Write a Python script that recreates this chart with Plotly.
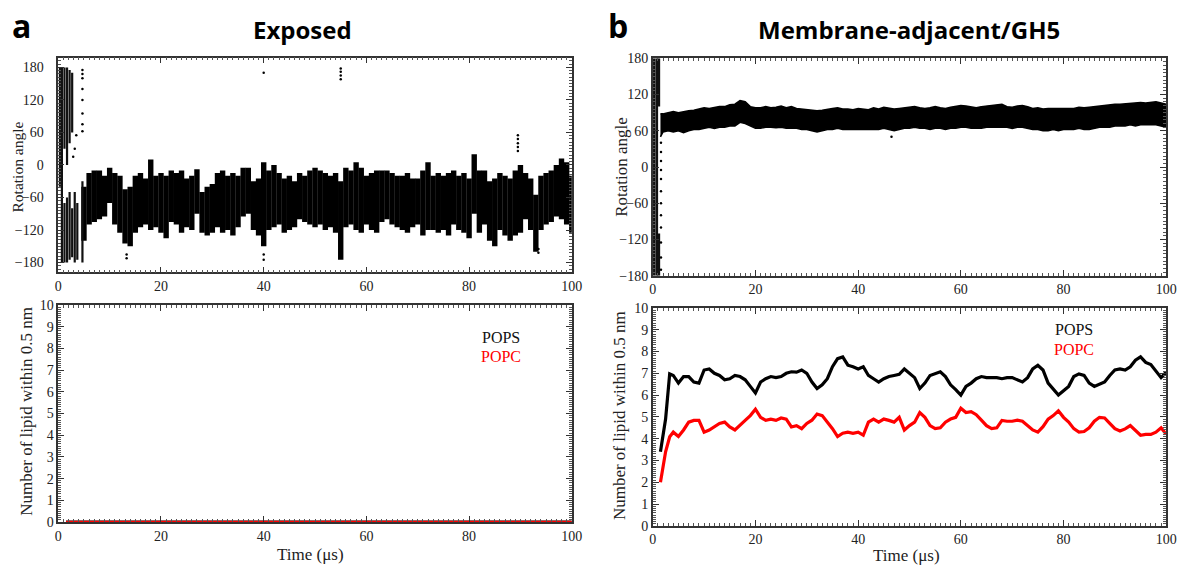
import plotly.graph_objects as go

# ---------------- DATA ----------------
# Panel a (Exposed) rotation angle: per-µs extent of the point cloud
a_t = list(range(5, 101))
a_hi = [-40, -15, -10, -10, -20, -5, -15, -20, -45, -40, -20, -15, -25, 10, -20, -15,
        -20, -10, -15, -10, -25, -20, -8, -50, -40, -35, -15, -10, -20, -15, -20, -5,
        -5, -30, -25, 5, -10, 0, -15, -25, -20, -30, -15, -20, -10, -5, -10, -15,
        -20, -15, -30, -5, -10, 5, -5, -20, -15, -10, -10, -10, -15, -20, -20, -15,
        -25, -25, -10, 5, -20, -15, -20, -15, -10, -20, -15, -25, 20, -10, -10, -30,
        -25, -15, -20, -25, -10, 0, -15, -25, -55, -20, -15, -10, 0, 12, 5, -20]
a_lo = [-140, -110, -105, -100, -95, -70, -110, -125, -145, -150, -125, -115, -110, -120, -115, -125,
        -135, -105, -110, -125, -115, -120, -90, -125, -130, -125, -115, -125, -120, -130, -115, -95,
        -90, -120, -130, -150, -120, -115, -110, -125, -120, -115, -100, -105, -110, -115, -110, -120,
        -115, -125, -175, -115, -110, -120, -125, -110, -120, -125, -105, -100, -110, -115, -120, -125,
        -115, -110, -130, -120, -120, -125, -120, -130, -110, -120, -125, -135, -90, -125, -110, -140,
        -150, -120, -130, -140, -130, -125, -100, -120, -160, -120, -110, -105, -95, -100, -110, -125]
# early, widely scattered part of panel a (t, low, high)
a_early_t = [0.3, 0.7, 1.2, 1.2, 1.7, 1.7, 2.2, 2.2, 2.7, 2.7, 3.2, 3.7, 4.7]
a_early_lo = [-40, -180, 30, -180, 0, -180, 40, -175, 60, -170, -180, -175, -180]
a_early_hi = [180, 180, 180, -70, 180, -60, 175, -50, 170, -80, -50, -70, -30]
# isolated points of panel a
a_dot_t = [4.7, 4.7, 4.7, 4.7, 4.7, 4.7, 4.7, 4.7, 3.5, 3.2, 2.9, 40, 55, 55, 55, 55,
           89.5, 89.5, 89.5, 89.5, 89.5, 13.3, 13.3, 40, 40, 93.5, 93.5]
a_dot_v = [175, 168, 160, 140, 120, 95, 75, 62, 55, 30, 15, 170, 178, 172, 165, 158,
           55, 48, 40, 33, 26, -165, -172, -165, -175, -155, -162]

# Panel b (Membrane-adjacent/GH5) rotation angle band
b_t = [1.5] + list(range(2, 101))
b_hi = [88, 88, 90, 92, 90, 92, 93, 94, 96, 98, 97, 99, 100, 100, 103, 104, 110, 108, 100, 98,
        98, 100, 98, 99, 101, 98, 100, 97, 96, 96, 94, 93, 94, 96, 97, 98, 96, 96, 95, 97,
        96, 95, 98, 96, 99, 98, 96, 97, 98, 100, 100, 98, 97, 98, 100, 98, 97, 99, 100, 102,
        101, 99, 98, 100, 101, 102, 102, 104, 100, 99, 101, 102, 100, 97, 98, 96, 97, 97, 96, 97,
        96, 97, 99, 98, 99, 100, 102, 103, 103, 104, 104, 105, 106, 106, 107, 106, 107, 108, 106, 104]
b_lo = [50, 58, 60, 58, 60, 57, 60, 62, 62, 64, 66, 64, 66, 66, 68, 68, 74, 72, 68, 64,
        64, 66, 66, 65, 66, 64, 64, 64, 62, 62, 60, 58, 60, 62, 62, 64, 62, 62, 63, 63,
        62, 62, 62, 62, 64, 62, 60, 62, 64, 64, 66, 64, 64, 62, 64, 64, 62, 64, 64, 66,
        66, 64, 64, 64, 66, 66, 65, 66, 66, 64, 66, 66, 64, 62, 62, 60, 60, 62, 60, 62,
        62, 62, 64, 62, 62, 64, 66, 66, 66, 68, 68, 68, 70, 68, 70, 70, 70, 70, 68, 66]
b_early_t = [0.3, 0.8, 1.2, 1.2]
b_early_lo = [-180, -180, 100, -180]
b_early_hi = [180, 180, 180, -110]
b_dot_t = [1.6] * 12 + [46.5]
b_dot_v = [40, 25, 10, -5, -20, -40, -60, -80, -100, -125, -150, -170, 50]

# Lipid contacts
lip_t = [1.5, 2.5, 3.3] + list(range(4, 101))
pops_b = [3.4, 4.9, 6.97, 6.9, 6.55, 6.85, 6.85, 6.6, 6.55, 7.15, 7.2, 7.0, 6.9, 6.7, 6.75, 6.9, 6.85, 6.7, 6.4, 6.1,
          6.6, 6.75, 6.85, 6.8, 6.85, 7.0, 7.07, 7.05, 7.15, 7.0, 6.6, 6.3, 6.47, 6.75, 7.3, 7.67, 7.75, 7.37, 7.3, 7.2,
          7.3, 6.9, 6.75, 6.6, 6.75, 6.85, 6.9, 6.95, 7.2, 7.0, 6.8, 6.3, 6.55, 6.9, 7.0, 7.07, 6.85, 6.47, 6.25, 6.0,
          6.4, 6.55, 6.75, 6.85, 6.8, 6.8, 6.8, 6.75, 6.8, 6.8, 6.7, 6.6, 6.8, 7.2, 7.37, 7.15, 6.55, 6.3, 6.0, 6.2,
          6.4, 6.85, 6.97, 6.9, 6.55, 6.4, 6.5, 6.6, 6.9, 7.15, 7.2, 7.15, 7.3, 7.6, 7.75, 7.5, 7.4, 7.07, 6.8, 7.05]
popc_b = [2.0, 3.4, 4.09, 4.3, 4.1, 4.4, 4.76, 4.84, 4.84, 4.3, 4.4, 4.54, 4.7, 4.76, 4.54, 4.4, 4.6, 4.84, 5.06, 5.35,
          4.98, 4.84, 4.9, 4.84, 4.95, 4.9, 4.54, 4.6, 4.46, 4.7, 4.85, 5.13, 5.06, 4.76, 4.46, 4.1, 4.25, 4.3, 4.25, 4.3,
          4.16, 4.76, 4.9, 4.76, 4.9, 4.84, 4.76, 4.98, 4.4, 4.6, 4.76, 5.2, 4.98, 4.6, 4.46, 4.5, 4.76, 4.9, 4.98, 5.4,
          5.2, 5.24, 5.1, 4.85, 4.6, 4.46, 4.5, 4.84, 4.8, 4.8, 4.85, 4.8, 4.6, 4.4, 4.3, 4.55, 4.9, 5.06, 5.28, 4.98,
          4.76, 4.46, 4.3, 4.33, 4.5, 4.8, 4.98, 4.95, 4.7, 4.46, 4.35, 4.45, 4.6, 4.4, 4.16, 4.2, 4.2, 4.3, 4.5, 4.2]
pops_a = [0.0] * len(lip_t)
popc_a = [0.0] * len(lip_t)

x_ticks = [0, 20, 40, 60, 80, 100]
ang_ticks = [-180, -120, -60, 0, 60, 120, 180]
lip_ticks = list(range(0, 11))


def columns(ts, los, his):
    xs, ys = [], []
    for t, lo, hi in zip(ts, los, his):
        xs += [t, t, None]
        ys += [lo, hi, None]
    return xs, ys


fig = go.Figure()

# Panel a top
cx, cy = columns(a_t, a_lo, a_hi)
fig.add_trace(go.Scatter(x=cx, y=cy, mode="lines", line=dict(color="black", width=5.4),
                         xaxis="x", yaxis="y", showlegend=False, hoverinfo="skip"))
ex, ey = columns(a_early_t, a_early_lo, a_early_hi)
fig.add_trace(go.Scatter(x=ex, y=ey, mode="lines", line=dict(color="#111", width=2.2),
                         xaxis="x", yaxis="y", showlegend=False, hoverinfo="skip"))
fig.add_trace(go.Scatter(x=a_dot_t, y=a_dot_v, mode="markers", marker=dict(color="black", size=2.5),
                         xaxis="x", yaxis="y", showlegend=False))

# Panel b top
fig.add_trace(go.Scatter(x=b_t, y=b_lo, mode="lines", line=dict(color="black", width=1.5),
                         xaxis="x3", yaxis="y3", showlegend=False, hoverinfo="skip"))
fig.add_trace(go.Scatter(x=b_t, y=b_hi, mode="lines", line=dict(color="black", width=1.5),
                         fill="tonexty", fillcolor="black",
                         xaxis="x3", yaxis="y3", showlegend=False, hoverinfo="skip"))
bx, by = columns(b_early_t, b_early_lo, b_early_hi)
fig.add_trace(go.Scatter(x=bx, y=by, mode="lines", line=dict(color="#111", width=2.5),
                         xaxis="x3", yaxis="y3", showlegend=False, hoverinfo="skip"))
fig.add_trace(go.Scatter(x=b_dot_t, y=b_dot_v, mode="markers", marker=dict(color="black", size=2.5),
                         xaxis="x3", yaxis="y3", showlegend=False))

# Lipid panels
fig.add_trace(go.Scatter(x=lip_t, y=pops_a, mode="lines", line=dict(color="black", width=3),
                         xaxis="x2", yaxis="y2", showlegend=False))
fig.add_trace(go.Scatter(x=lip_t, y=popc_a, mode="lines", line=dict(color="red", width=2.5),
                         xaxis="x2", yaxis="y2", showlegend=False))
fig.add_trace(go.Scatter(x=lip_t, y=pops_b, mode="lines", line=dict(color="black", width=3.2),
                         xaxis="x4", yaxis="y4", showlegend=False))
fig.add_trace(go.Scatter(x=lip_t, y=popc_b, mode="lines", line=dict(color="red", width=3.2),
                         xaxis="x4", yaxis="y4", showlegend=False))

W, H = 1195, 569
xa_dom = [55 / W, 575 / W]
xb_dom = [657 / W, 1177 / W]

tickfont = dict(family="Liberation Serif", size=14, color="#222")


def xaxis(dom, anchor):
    return dict(domain=dom, anchor=anchor, range=[0, 100], tickvals=x_ticks,
                ticks="inside", ticklen=6, tickwidth=1, tickcolor="#333",
                minor=dict(dtick=1, tick0=0, ticks="inside", ticklen=3, tickcolor="#555", tickwidth=1),
                showline=True, linecolor="#333", linewidth=1.5, mirror="ticks",
                showgrid=False, zeroline=False, tickfont=tickfont)


def yaxis(dom, anchor, rng, vals, minor_dt, standoff=0):
    return dict(domain=dom, anchor=anchor, range=rng, tickvals=vals,
                ticks="inside", ticklen=6, tickwidth=1, tickcolor="#333",
                minor=dict(dtick=minor_dt, tick0=0, ticks="inside", ticklen=3, tickcolor="#555", tickwidth=1),
                showline=True, linecolor="#333", linewidth=1.5, mirror="ticks",
                showgrid=False, zeroline=False, tickfont=tickfont, ticklabelstandoff=standoff)


fig.update_layout(
    width=W, height=H, margin=dict(l=0, r=0, t=0, b=0),
    paper_bgcolor="white", plot_bgcolor="white",
    xaxis=xaxis(xa_dom, "y"),
    yaxis=yaxis([1 - 272.5 / H, 1 - 52 / H], "x", [-198, 198], ang_ticks, 6, 10),
    xaxis2=xaxis(xa_dom, "y2"),
    yaxis2=yaxis([1 - 529 / H, 1 - 306 / H], "x2", [0, 10], lip_ticks, 0.1),
    xaxis3=xaxis(xb_dom, "y3"),
    yaxis3=yaxis([1 - 276 / H, 1 - 52.7 / H], "x3", [-180, 180], ang_ticks, 6),
    xaxis4=xaxis(xb_dom, "y4"),
    yaxis4=yaxis([1 - 533 / H, 1 - 309 / H], "x4", [0, 10], lip_ticks, 0.1),
)

serif = "Liberation Serif"
sans = "Open Sans"


def ann(text, x, y, size, family, color="black", bold=False, angle=0):
    fig.add_annotation(text=f"<b>{text}</b>" if bold else text, x=x / W, y=1 - y / H,
                       xref="paper", yref="paper", showarrow=False, textangle=angle,
                       xanchor="center", yanchor="middle",
                       font=dict(family=family, size=size, color=color))


ann("a", 18, 19, 32, sans, bold=True)
ann("b", 622, 19, 32, sans, bold=True)
ann("Exposed", 302, 23, 24, sans, bold=True)
ann("Membrane-adjacent/GH5", 917, 23, 24, sans, bold=True)
ann("Rotation angle", 14, 164, 15.5, serif, color="#222", angle=-90)
ann("Rotation angle", 626, 164, 17, serif, color="#222", angle=-90)
ann("Number of lipid within 0.5 nm", 22, 415, 17, serif, color="#222", angle=-90)
ann("Number of lipid within 0.5 nm", 624, 420, 17, serif, color="#222", angle=-90)
ann("Time (μs)", 310, 562, 17, serif, color="#222")
ann("Time (μs)", 914, 563, 17, serif, color="#222")
ann("POPS", 503, 339, 16, serif, color="#111")
ann("POPC", 503, 359, 16, serif, color="red")
ann("POPS", 1084, 331, 16, serif, color="#111")
ann("POPC", 1084, 352, 16, serif, color="red")

fig.write_html("out.html")
